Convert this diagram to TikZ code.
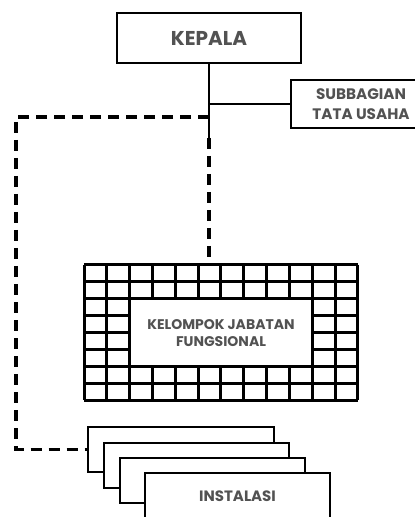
\documentclass[tikz,border=0pt]{standalone}
\usepackage{fontspec}
\setmainfont{Poppins}
\usetikzlibrary{positioning}

\begin{document}
\begin{tikzpicture}[x=0.5pt, y=-0.5pt,
  unit/.style={draw, line width=1.3pt, fill=white, text=black!68, align=center, inner sep=0pt},
  cell/.style={line width=1.5pt},
  dashline/.style={line width=1.6pt, dash pattern=on 5.5pt off 3.5pt}]
\useasboundingbox (0,0) rectangle (415,517);
\clip (0,0) rectangle (415,517);

\node[unit, minimum width=92pt, minimum height=25pt, font=\bfseries\fontsize{10}{12}\selectfont] (kepala) at (209,38) {KEPALA};
\node[unit, minimum width=70pt, minimum height=24pt, font=\bfseries\fontsize{7.6}{10}\selectfont] (tu) at (361,104) {SUBBAGIAN\\TATA USAHA};

% kelompok jabatan fungsional
\node[minimum width=137pt, minimum height=67.5pt, inner sep=0pt] (grid) at (221,332.5) {};
\foreach \i in {0,...,12}
  \draw[cell] (84+\i*22.83,265) -- (84+\i*22.83,400);
\foreach \j in {0,...,8}
  \draw[cell] (84,265+\j*16.875) -- (358,265+\j*16.875);
\node[unit, line width=1.5pt, minimum width=91.3pt, minimum height=33.75pt, font=\bfseries\fontsize{7}{8.5}\selectfont] (jf) at (221,332.6) {KELOMPOK JABATAN\\FUNGSIONAL};

% instalasi
\node[unit, minimum width=93pt, minimum height=22.5pt] (inst1) at (181,449.5) {};
\node[unit, minimum width=92.5pt, minimum height=22.5pt] (inst2) at (196.5,465.5) {};
\node[unit, minimum width=92.5pt, minimum height=22.5pt] (inst3) at (212.5,480.5) {};
\node[unit, minimum width=92.5pt, minimum height=23pt, font=\bfseries\fontsize{7.5}{9}\selectfont] (inst4) at (237.5,496) {INSTALASI};

\coordinate (tee) at (kepala.south |- tu.west);
\coordinate (cabang) at (209,117);
\coordinate (putus) at (209,138);
\coordinate (sudut) at (16,117);

\draw[line width=1.3pt] (kepala.south) -- (putus);
\draw[line width=1.3pt] (tee) -- (tu.west);
\draw[dashline] (putus) -- (putus |- grid.north);
\draw[dashline] (cabang) -- (sudut) -- (sudut |- inst1.west) -- (inst1.west);
\end{tikzpicture}
\end{document}
